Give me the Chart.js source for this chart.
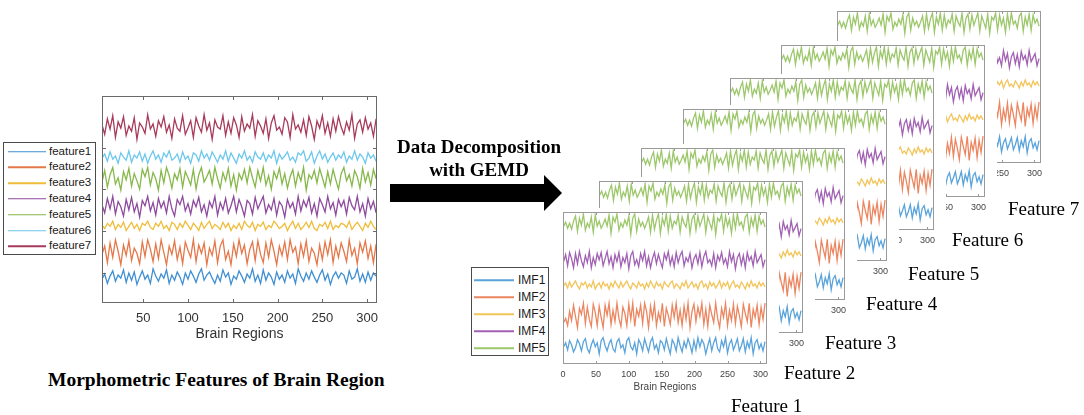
<!DOCTYPE html>
<html>
<head>
<meta charset="utf-8">
<script src="https://cdn.jsdelivr.net/npm/chart.js@4.4.1/dist/chart.umd.min.js"></script>
<style>
  html, body { margin: 0; padding: 0; background: #fff; }
  #stage { position: relative; width: 1084px; height: 415px; overflow: hidden; background: #fff; }
  canvas.chart { position: absolute; background: #fff; }
  .txt { position: absolute; white-space: nowrap; line-height: 1; transform: translateY(-50%); }
  .serifB { font-family: "Liberation Serif", "Times New Roman", serif; font-weight: bold; color: #000; }
  .serif { font-family: "Liberation Serif", "Times New Roman", serif; color: #000; }
  .legend { position: absolute; background: #fff; border: 1px solid #4a4a4a; box-sizing: border-box; }
  .legend .ln { position: absolute; height: 1.5px; transform: translateY(-50%); }
  .legend .lb { position: absolute; font-family: "Liberation Sans", Arial, sans-serif; color: #1a1a1a; white-space: nowrap; line-height: 1; transform: translateY(-50%); }
</style>
</head>
<body>
<div id="stage"></div>
<script>
// ---------------- DATA ----------------
const leftSeriesNames = ['feature1','feature2','feature3','feature4','feature5','feature6','feature7'];
const leftXTicks = [50, 100, 150, 200, 250, 300];
const leftYTicks = [29, 70, 110, 150];
const leftXStart = 4, leftXStep = 3;

const feature1 = [23,28,19,26,31,21,27,24,32,20, 29,22,30,18,25,31,23,27,19,33, 26,21,28,24,32,19,27,22,30,25,
  18,29,23,31,26,20,28,33,22,27, 30,24,19,27,21,32,25,29,18,26, 23,31,26,20,28,24,33,21,27,19,
  32,22,29,25,18,30,23,27,20,31, 24,28,19,33,26,21,29,23,31,25, 20,27,32,22,28,18,26,30,24,29,
  27,19,31,23,25,33,21,28,20,30, 22,29,26];
const feature2 = [47,55,39,58,44,61,50,37,56,46, 60,41,53,48,38,59,45,61,52,40, 57,43,61,49,37,55,47,60,42,54,
  38,59,51,44,61,40,56,48,58,37, 53,46,60,39,55,61,42,50,37,57, 45,61,48,56,38,52,59,41,60,47,
  39,58,44,61,50,37,55,46,59,42, 61,49,54,38,57,45,60,40,53,48, 37,56,42,59,47,61,39,55,44,58,
  50,40,61,46,53,38,58,49,60,43, 55,39,57];
const feature3 = [75,72,77,74,79,71,76,73,78,70, 74,78,72,76,70,77,75,79,73,71, 77,74,79,72,75,70,78,76,71,77,
  73,79,75,71,77,74,70,78,72,76, 79,72,76,74,71,78,73,77,70,75, 72,77,71,79,75,73,78,70,76,74,
  78,71,75,73,79,76,72,74,77,70, 75,79,72,77,71,74,78,73,79,72, 70,76,74,78,72,79,71,75,73,77,
  76,73,79,71,75,78,74,70,77,73, 79,74,71];
const feature4 = [95,87,101,91,103,86,98,93,84,100, 90,102,88,96,83,99,94,103,89,97, 85,101,92,98,87,103,91,84,100,95,
  103,89,96,86,99,93,102,88,95,84, 98,92,103,85,97,90,101,87,94,103, 88,100,93,84,99,96,86,102,91,97,
  103,87,95,90,101,85,98,94,83,100, 92,97,86,103,89,99,93,102,87,96, 84,101,95,88,103,91,97,85,100,93,
  99,86,102,94,90,103,88,96,84,101, 91,98,87];
const feature5 = [117,128,112,124,131,115,121,109,127,119, 130,113,125,118,110,129,122,131,114,126, 120,109,128,116,131,123,111,125,119,130,
  112,127,121,114,129,110,124,131,117,122, 128,115,131,120,111,126,118,130,113,124, 109,125,119,129,116,131,121,112,128,118,
  131,114,123,110,127,120,130,115,125,111, 122,129,113,126,118,131,109,124,120,128, 116,130,121,112,127,115,129,119,110,125,
  131,118,124,113,128,122,111,130,117,126, 114,129,120];
const feature6 = [140,144,137,146,139,142,135,145,141,138, 147,136,143,140,146,137,144,135,142,147, 139,143,136,145,141,147,138,140,144,136,
  146,139,142,135,145,143,137,147,140,144, 138,146,141,136,143,139,147,137,145,140, 135,144,140,147,138,142,136,146,141,139,
  145,137,143,140,147,135,144,139,142,146, 138,141,136,145,143,147,137,140,146,135, 142,147,139,144,136,141,145,138,143,140,
  146,136,142,139,147,138,144,141,135,145, 140,143,137];
const feature7 = [172,163,178,168,181,160,175,169,180,162, 171,166,179,158,174,170,164,182,168,173, 161,176,170,180,165,172,159,178,169,166,
  181,163,169,176,160,179,171,165,182,167, 174,158,177,170,168,181,162,175,164,179, 172,160,180,166,173,169,182,161,176,171,
  164,178,159,174,181,167,170,163,179,175, 160,182,168,172,165,177,162,180,171,158, 176,169,181,164,174,161,178,166,180,170,
  163,175,167,182,159,173,177,165,179,168, 174,161,178];

const imfNames = ['IMF1','IMF2','IMF3','IMF4','IMF5'];
const cardXTicks = [0, 50, 100, 150, 200, 250, 300];
const cardXStart = 1, cardXStep = 3;
const featureLabels = ['Feature 1','Feature 2','Feature 3','Feature 4','Feature 5','Feature 6','Feature 7'];

const imf1 = [17,21,14,23,19,12,16,24,20,13, 22,25,15,11,19,24,17,21,10,23, 26,18,13,20,24,15,12,22,25,16,
  19,11,23,26,17,14,21,10,24,20, 13,25,18,12,22,26,15,19,11,23, 21,14,25,17,10,24,20,13,26,18,
  12,22,16,25,19,11,23,14,26,17, 24,20,10,18,25,13,21,26,15,12, 23,17,26,11,20,24,14,19,25,13,
  18,25,12,22,16,26,10,21,24,15, 20,13,22];
const imf2 = [41,45,38,52,43,58,47,36,55,49, 60,40,56,44,37,59,51,38,57,46, 36,58,48,60,39,53,42,60,45,37,
  56,50,38,59,44,60,37,54,47,58, 40,60,52,36,57,45,59,38,51,43, 60,37,55,48,39,58,46,60,41,53,
  38,57,44,60,36,52,59,42,56,47, 60,39,54,37,58,49,41,60,45,36, 55,46,60,38,53,43,59,40,57,48,
  37,59,50,42,60,36,54,46,58,39, 56,44,60];
const imf3 = [77,80,75,81,76,79,82,77,74,80, 78,81,75,79,76,82,74,78,80,75, 81,77,79,74,80,76,82,78,75,81,
  76,79,82,77,74,80,78,75,81,77, 79,74,80,76,82,78,75,81,77,79, 74,81,78,76,80,82,75,79,77,74,
  80,77,82,75,78,81,76,79,74,80, 82,76,79,74,81,77,80,75,78,82, 75,80,77,81,74,79,82,76,78,75,
  81,78,74,80,76,82,77,79,75,81, 77,80,76];
const imf4 = [101,108,97,110,104,95,109,99,111,102, 96,107,100,111,95,105,98,109,103,110, 97,104,111,99,106,95,108,101,110,96,
  105,100,109,94,107,111,98,103,96,109, 102,111,97,106,95,104,110,99,108,101, 95,109,103,111,98,106,96,110,100,107,
  111,97,105,101,109,95,104,108,99,110, 96,106,111,100,103,97,109,95,107,102, 110,99,104,96,111,101,108,94,105,109,
  98,107,95,110,102,106,97,111,100,104, 108,96,103];
const imf5 = [136,140,134,139,133,141,146,131,144,137, 148,132,139,135,145,130,147,136,141,134, 138,143,136,147,129,145,140,148,132,139,
  135,142,137,146,128,144,148,131,143,136, 140,134,139,145,130,147,133,142,148,129, 144,137,148,131,146,134,141,138,147,130,
  145,139,135,148,129,143,147,132,146,136, 142,148,130,145,139,133,147,128,144,141, 148,131,146,136,143,129,147,134,148,137,
  140,133,145,148,130,144,136,147,131,146, 138,142,135];

// ---------------- STYLES / LAYOUT ----------------
const leftColors = ['#3f8fd2','#e5784a','#efbd3a','#8e4a9e','#86b84a','#6cc8ec','#a83a5c'];
const imfColors = ['#5aa3db','#ec8660','#f2c55a','#a262b4','#9cc76a'];
const SANS = '"Liberation Sans", Arial, sans-serif';

const stage = document.getElementById('stage');

const boxPlugin = {
  id: 'matBox',
  afterDraw(chart, args, opts) {
    const { ctx, chartArea: a, scales } = chart;
    ctx.save();
    ctx.strokeStyle = opts.color;
    ctx.lineWidth = 1;
    ctx.strokeRect(Math.round(a.left) + 0.5, Math.round(a.top) + 0.5,
                   Math.round(a.right - a.left) - 1, Math.round(a.bottom - a.top) - 1);
    ctx.beginPath();
    (opts.xTicks || []).forEach(v => {
      const x = Math.round(scales.x.getPixelForValue(v)) + 0.5;
      ctx.moveTo(x, a.bottom); ctx.lineTo(x, a.bottom - opts.len);
      ctx.moveTo(x, a.top); ctx.lineTo(x, a.top + opts.len);
    });
    (opts.yTicks || []).forEach(v => {
      const y = Math.round(scales.y.getPixelForValue(v)) + 0.5;
      ctx.moveTo(a.left, y); ctx.lineTo(a.left + opts.len, y);
      ctx.moveTo(a.right, y); ctx.lineTo(a.right - opts.len, y);
    });
    ctx.stroke();
    ctx.restore();
  }
};

function makeCanvas(left, top, w, h) {
  const c = document.createElement('canvas');
  c.className = 'chart';
  c.width = w; c.height = h;
  c.style.left = left + 'px'; c.style.top = top + 'px';
  c.style.width = w + 'px'; c.style.height = h + 'px';
  stage.appendChild(c);
  return c;
}

function toPoints(vals, start, step) {
  return vals.map((v, i) => ({ x: start + step * i, y: v }));
}

function text(cls, str, left, cy, size, extra) {
  const d = document.createElement('div');
  d.className = 'txt ' + cls;
  d.textContent = str;
  d.style.left = left + 'px';
  d.style.top = cy + 'px';
  d.style.fontSize = size + 'px';
  if (extra) Object.assign(d.style, extra);
  stage.appendChild(d);
  return d;
}

function legend(names, colors, box, rowY0, rowStep, lineX0, lineX1, textX, fontSize) {
  const L = document.createElement('div');
  L.className = 'legend';
  Object.assign(L.style, { left: box.x + 'px', top: box.y + 'px', width: box.w + 'px', height: box.h + 'px' });
  names.forEach((n, i) => {
    const cy = rowY0 + rowStep * i - box.y;
    const ln = document.createElement('div');
    ln.className = 'ln';
    Object.assign(ln.style, { left: (lineX0 - box.x) + 'px', width: (lineX1 - lineX0) + 'px', top: cy + 'px', background: colors[i] });
    const lb = document.createElement('div');
    lb.className = 'lb';
    lb.textContent = n;
    Object.assign(lb.style, { left: (textX - box.x) + 'px', top: cy + 'px', fontSize: fontSize + 'px' });
    L.appendChild(ln); L.appendChild(lb);
  });
  stage.appendChild(L);
}

// ---------------- LEFT CHART ----------------
(function () {
  const cv = makeCanvas(90, 90, 300, 260);
  const series = [feature1, feature2, feature3, feature4, feature5, feature6, feature7];
  new Chart(cv, {
    type: 'line',
    data: {
      datasets: series.map((s, i) => ({
        label: leftSeriesNames[i],
        data: toPoints(s, leftXStart, leftXStep),
        borderColor: leftColors[i],
        borderWidth: 1.3,
        pointRadius: 0,
        tension: 0,
        fill: false
      }))
    },
    options: {
      responsive: false, animation: false, devicePixelRatio: 1,
      layout: { padding: { left: 12, top: 6, right: 13, bottom: 5 } },
      plugins: {
        legend: { display: false }, tooltip: { enabled: false },
        matBox: { color: '#6a6a6a', len: 4, xTicks: leftXTicks, yTicks: leftYTicks }
      },
      scales: {
        x: {
          type: 'linear', min: 4, max: 311,
          grid: { display: false, drawTicks: false }, border: { display: false },
          afterBuildTicks: s => { s.ticks = leftXTicks.map(v => ({ value: v })); },
          afterFit: s => { s.height = 42; },
          ticks: { font: { family: SANS, size: 13 }, color: '#333', padding: 8, maxRotation: 0, autoSkip: false },
          title: { display: true, text: 'Brain Regions', font: { family: SANS, size: 14 }, color: '#333', padding: { top: 0, bottom: 2 } }
        },
        y: { type: 'linear', min: 0, max: 200, display: false }
      }
    },
    plugins: [boxPlugin]
  });
})();

legend(leftSeriesNames, leftColors, { x: 3, y: 142, w: 93, h: 113 }, 150.5, 15.8, 7, 45, 48, 11.5);

text('serifB', 'Morphometric Features of Brain Region', 48, 380, 19.5);

// ---------------- ARROW + CAPTION ----------------
(function () {
  const ns = 'http://www.w3.org/2000/svg';
  const svg = document.createElementNS(ns, 'svg');
  svg.setAttribute('width', '1084'); svg.setAttribute('height', '415');
  Object.assign(svg.style, { position: 'absolute', left: '0px', top: '0px', pointerEvents: 'none' });
  const p = document.createElementNS(ns, 'polygon');
  p.setAttribute('points', '390,184 544,184 544,175 562,193 544,211 544,202 390,202');
  p.setAttribute('fill', '#000');
  svg.appendChild(p);
  stage.appendChild(svg);
})();
text('serifB', 'Data Decomposition', 479, 146, 19, { transform: 'translate(-50%,-50%)' });
text('serifB', 'with GEMD', 479, 169, 19, { transform: 'translate(-50%,-50%)' });

// ---------------- IMF CARDS (back to front) ----------------
const cardPlots = [
  { x: 563, y: 212 }, { x: 599, y: 181 }, { x: 641, y: 148 }, { x: 683, y: 109 },
  { x: 730, y: 78 }, { x: 781, y: 45 }, { x: 837, y: 11 }
];
const featureLabelPos = [
  { x: 731, y: 405 }, { x: 784, y: 372 }, { x: 825, y: 342 }, { x: 866, y: 303 },
  { x: 908, y: 273 }, { x: 952, y: 239 }, { x: 1008, y: 208 }
];
const PW = 204, PH = 152, PADL = 8, PADR = 12, PADT = 4, PADB = 2, AXH = 30;

for (let k = cardPlots.length - 1; k >= 0; k--) {
  const cp = cardPlots[k];
  const cv = makeCanvas(cp.x - PADL, cp.y - PADT, PW + PADL + PADR, PH + PADT + AXH + PADB);
  const series = [imf1, imf2, imf3, imf4, imf5];
  new Chart(cv, {
    type: 'line',
    data: {
      datasets: series.map((s, i) => ({
        label: imfNames[i],
        data: toPoints(s, cardXStart, cardXStep),
        borderColor: imfColors[i],
        borderWidth: 1.3,
        pointRadius: 0,
        tension: 0,
        fill: false
      }))
    },
    options: {
      responsive: false, animation: false, devicePixelRatio: 1,
      layout: { padding: { left: PADL, top: PADT, right: PADR, bottom: PADB } },
      plugins: {
        legend: { display: false }, tooltip: { enabled: false },
        matBox: { color: '#9a9a9a', len: 3, xTicks: cardXTicks }
      },
      scales: {
        x: {
          type: 'linear', min: 0, max: 310,
          grid: { display: false, drawTicks: false }, border: { display: false },
          afterBuildTicks: s => { s.ticks = cardXTicks.map(v => ({ value: v })); },
          afterFit: s => { s.height = AXH; },
          ticks: { font: { family: SANS, size: 9 }, color: '#444', padding: 5, maxRotation: 0, autoSkip: false },
          title: { display: true, text: 'Brain Regions', font: { family: SANS, size: 10 }, color: '#444', padding: { top: 0, bottom: 1 } }
        },
        y: { type: 'linear', min: 0, max: 150, display: false }
      }
    },
    plugins: [boxPlugin]
  });
}

legend(imfNames, imfColors, { x: 471, y: 267, w: 78, h: 89 }, 279, 17, 473, 513, 517, 12);

featureLabels.forEach((t, i) => {
  text('serif', t, featureLabelPos[i].x, featureLabelPos[i].y, 19);
});
</script>
</body>
</html>
